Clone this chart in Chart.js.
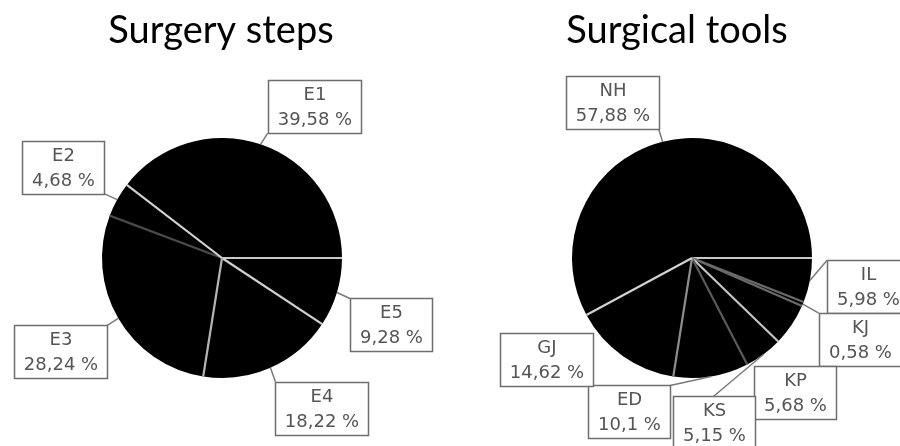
<!DOCTYPE html>
<html><head><meta charset="utf-8">
<script src="https://cdn.jsdelivr.net/npm/chart.js@4/dist/chart.umd.min.js"></script>
<style>
html,body{margin:0;padding:0;background:#fff;width:900px;height:446px;overflow:hidden;}
.wrap{position:absolute;top:0;height:446px;}
</style></head><body>
<div class="wrap" style="left:0;width:442px"><canvas id="c1"></canvas></div>
<div class="wrap" style="left:454px;width:446px"><canvas id="c2"></canvas></div>
<script>
// ---- data (counter-clockwise from 3 o'clock) ----
const stepCategories = ["E1", "E2", "E3", "E4", "E5"];
const stepValues = [39.58, 4.68, 28.24, 18.22, 9.28];
const toolCategories = ["NH", "GJ", "ED", "KS", "KP", "KJ", "IL"];
const toolValues = [57.88, 14.62, 10.1, 5.15, 5.68, 0.58, 5.98];
const titles = ["Surgery steps", "Surgical tools"];

// ---- styles: separator colour at each slice's clockwise start, callout placement ----
const stepStyle = {
  E1: { sep: '#d2d2d2', d: [7, -11], f: [0, 1], leader: true },
  E2: { sep: '#4a4a4a', d: [-13, -6], f: [1, 1], leader: true },
  E3: { sep: '#b4b4b4', d: [-11, 7], f: [1, 0], leader: true },
  E4: { sep: '#d0d0d0', d: [5, 14], f: [0, 0], leader: true },
  E5: { sep: '#c8c8c8', d: [13, 6], f: [0, 0], leader: true }
};
const toolStyle = {
  NH: { sep: '#d2d2d2', d: [-4, -13], f: [1, 1], leader: true },
  GJ: { sep: '#8c8c8c', d: [-30, -23], f: [1, 0], leader: false },
  ED: { sep: '#5a5a5a', d: [-41, 9], f: [1, 0], leader: true },
  KS: { sep: '#c4c4c4', d: [-50, 42], f: [0.5, 0], leader: true },
  KP: { sep: '#6a6a6a', d: [-38, 41], f: [0, 0], leader: false },
  KJ: { sep: '#6a6a6a', d: [16, 9], f: [0, 0], leader: true },
  IL: { sep: '#c8c8c8', d: [17, -20], f: [0, 0], leader: true }
};

function fmt(v) { return String(v).replace('.', ',') + ' %'; }

const calloutPlugin = {
  id: 'callouts',
  afterDatasetsDraw(chart, args, opts) {
    const ctx = chart.ctx;
    const meta = chart.getDatasetMeta(0);
    const labels = chart.data.labels;
    const vals = chart.data.datasets[0].data;
    const st = opts.styles;
    ctx.save();
    // title, centred over the canvas
    ctx.fillStyle = '#000000';
    ctx.font = '38px Lato';
    ctx.textAlign = 'center';
    ctx.textBaseline = 'alphabetic';
    ctx.fillText(opts.title, chart.width / 2, 43);
    // separators
    meta.data.forEach((arc, i) => {
      const p = arc.getProps(['x', 'y', 'startAngle', 'outerRadius'], true);
      ctx.strokeStyle = st[labels[i]].sep;
      ctx.lineWidth = 2.2;
      ctx.beginPath();
      ctx.moveTo(p.x, p.y);
      ctx.lineTo(p.x + Math.cos(p.startAngle) * p.outerRadius, p.y + Math.sin(p.startAngle) * p.outerRadius);
      ctx.stroke();
    });
    ctx.font = '18px "DejaVu Sans"';
    const boxes = [];
    meta.data.forEach((arc, i) => {
      const p = arc.getProps(['x', 'y', 'startAngle', 'endAngle', 'outerRadius'], true);
      const s = st[labels[i]];
      const mid = (p.startAngle + p.endAngle) / 2;
      const ax = p.x + Math.cos(mid) * p.outerRadius;
      const ay = p.y + Math.sin(mid) * p.outerRadius;
      const px = ax + s.d[0], py = ay + s.d[1];
      const l1 = labels[i], l2 = fmt(vals[i]);
      const w = Math.round(Math.max(ctx.measureText(l1).width, ctx.measureText(l2).width) + 19);
      const h = 53;
      const bx = Math.round(px - s.f[0] * w), by = Math.round(py - s.f[1] * h);
      boxes.push({ ax, ay, px, py, bx, by, w, h, l1, l2, leader: s.leader });
    });
    boxes.forEach(b => {
      if (b.leader) {
        ctx.strokeStyle = '#7a7a7a';
        ctx.lineWidth = 1.5;
        ctx.beginPath(); ctx.moveTo(b.ax, b.ay); ctx.lineTo(b.px, b.py); ctx.stroke();
      }
    });
    boxes.forEach(b => {
      ctx.fillStyle = '#ffffff';
      ctx.fillRect(b.bx, b.by, b.w, b.h);
      ctx.strokeStyle = '#6e6e6e';
      ctx.lineWidth = 1.5;
      ctx.strokeRect(b.bx + 0.5, b.by + 0.5, b.w, b.h);
      ctx.fillStyle = '#555555';
      ctx.textAlign = 'center';
      ctx.textBaseline = 'middle';
      ctx.fillText(b.l1, b.bx + b.w / 2 + 0.5, b.by + 15);
      ctx.fillText(b.l2, b.bx + b.w / 2 + 0.5, b.by + 40);
    });
    ctx.restore();
  }
};

function makePie(id, cats, vals, style, title, pad) {
  // library draws clockwise from 3 o'clock; source order is counter-clockwise
  const labels = cats.slice().reverse();
  const data = vals.slice().reverse();
  return new Chart(document.getElementById(id), {
    type: 'pie',
    data: {
      labels: labels,
      datasets: [{
        data: data,
        backgroundColor: '#000000',
        borderWidth: 0,
        hoverOffset: 0,
        offset: 0
      }]
    },
    options: {
      responsive: true,
      maintainAspectRatio: false,
      animation: false,
      events: [],
      rotation: 90,
      layout: { padding: pad },
      plugins: {
        legend: { display: false },
        tooltip: { enabled: false },
        title: { display: false },
        callouts: { styles: style, title: title }
      }
    },
    plugins: [calloutPlugin]
  });
}

makePie('c1', stepCategories, stepValues, stepStyle, titles[0], { left: 102, right: 100, top: 138, bottom: 68 });
makePie('c2', toolCategories, toolValues, toolStyle, titles[1], { left: 118, right: 88, top: 138, bottom: 68 });
</script>
</body></html>
